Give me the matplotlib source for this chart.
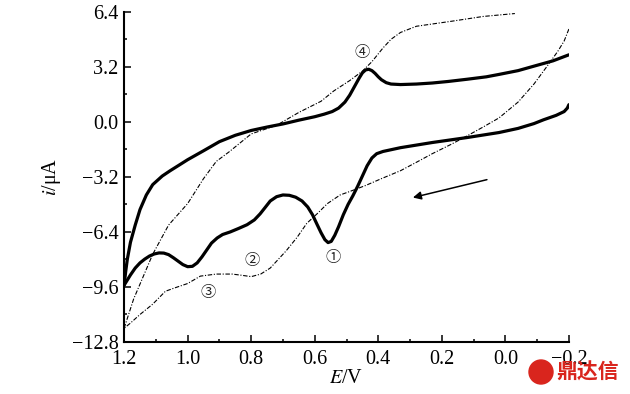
import matplotlib.pyplot as plt
from matplotlib.ticker import MultipleLocator
from matplotlib.patches import Circle

plt.rcParams['font.family'] = ['Liberation Serif', 'DejaVu Serif']
plt.rcParams['mathtext.fontset'] = 'stix'

# curva gruesa: barrido anodico -> catodico (rama superior)
e_up = [1.20, 1.195, 1.19, 1.18, 1.165, 1.15, 1.13, 1.11, 1.08, 1.055, 1.03, 1.00, 0.95, 0.90,
        0.85, 0.80, 0.75, 0.70, 0.65, 0.60, 0.57, 0.545, 0.525, 0.505, 0.49, 0.475, 0.46, 0.45,
        0.44, 0.43, 0.42, 0.41, 0.40, 0.39, 0.375, 0.36, 0.33, 0.28, 0.23, 0.18, 0.12, 0.06,
        0.02, -0.04, -0.09, -0.15, -0.20]
i_up = [-9.5, -8.7, -8.0, -7.0, -6.0, -5.1, -4.25, -3.65, -3.15, -2.84, -2.55, -2.2, -1.68, -1.15,
        -0.78, -0.5, -0.3, -0.12, 0.1, 0.3, 0.45, 0.6, 0.8, 1.15, 1.55, 2.05, 2.55, 2.85,
        3.02, 3.06, 2.98, 2.82, 2.62, 2.45, 2.28, 2.2, 2.17, 2.2, 2.26, 2.35, 2.48, 2.62,
        2.76, 2.98, 3.24, 3.55, 3.9]

# rama inferior (barrido de vuelta)
e_dn = [-0.20, -0.195, -0.185, -0.16, -0.12, -0.09, -0.04, 0.02, 0.12, 0.23, 0.33, 0.36, 0.385,
        0.405, 0.42, 0.435, 0.45, 0.465, 0.48, 0.495, 0.51, 0.525, 0.537, 0.548, 0.558, 0.568,
        0.58, 0.593, 0.607, 0.622, 0.64, 0.66, 0.68, 0.70, 0.72, 0.74, 0.757, 0.772, 0.79,
        0.813, 0.84, 0.866, 0.89, 0.907, 0.925, 0.94, 0.955, 0.97, 0.985, 1.00, 1.015, 1.03,
        1.045, 1.06, 1.075, 1.09, 1.105, 1.12, 1.135, 1.15, 1.165, 1.18, 1.19, 1.20]
i_dn = [1.0, 0.8, 0.6, 0.38, 0.12, -0.1, -0.38, -0.62, -0.91, -1.2, -1.5, -1.62, -1.72,
        -1.85, -2.1, -2.55, -3.15, -3.75, -4.3, -4.8, -5.4, -6.1, -6.6, -6.95, -7.02, -6.85,
        -6.45, -5.95, -5.4, -4.95, -4.6, -4.38, -4.27, -4.25, -4.35, -4.6, -5.0, -5.35, -5.7,
        -5.98, -6.2, -6.4, -6.55, -6.75, -7.05, -7.45, -7.85, -8.2, -8.4, -8.42, -8.3, -8.1,
        -7.9, -7.72, -7.63, -7.62, -7.68, -7.8, -7.98, -8.2, -8.5, -8.9, -9.2, -9.5]

# curva punto-raya: rama inferior y rama superior
e_dd_dn = [-0.20, -0.185, -0.165, -0.13, -0.09, -0.04, 0.02, 0.07, 0.12, 0.17, 0.23, 0.28, 0.33,
           0.39, 0.44, 0.49, 0.52, 0.56, 0.59, 0.625, 0.655, 0.69, 0.72, 0.74, 0.77, 0.80, 0.83,
           0.86, 0.91, 0.96, 1.00, 1.04, 1.07, 1.11, 1.15, 1.18, 1.20]
i_dd_dn = [5.4, 4.7, 4.1, 3.2, 2.2, 1.15, 0.23, -0.3, -0.81, -1.3, -1.85, -2.35, -2.84,
           -3.3, -3.7, -4.05, -4.25, -4.75, -5.3, -5.9, -6.7, -7.5, -8.1, -8.5, -8.85, -9.0, -8.92,
           -8.85, -8.85, -8.97, -9.4, -9.65, -9.85, -10.6, -11.2, -11.7, -12.0]
e_dd_up = [1.20, 1.17, 1.14, 1.11, 1.06, 1.00, 0.95, 0.91, 0.87, 0.80, 0.72, 0.65, 0.58, 0.54,
           0.49, 0.45, 0.42, 0.385, 0.36, 0.33, 0.28, 0.17, 0.07, -0.03]
i_dd_up = [-12.0, -10.3, -9.0, -7.7, -6.0, -4.75, -3.3, -2.3, -1.75, -0.7, -0.2, 0.55, 1.2, 1.8,
           2.4, 2.95, 3.5, 4.3, 4.8, 5.2, 5.56, 5.85, 6.13, 6.3]

labels = ['①', '②', '③', '④']
lab_e = [0.543, 0.797, 0.936, 0.451]
lab_i = [-7.9, -8.05, -9.9, 4.05]

fig = plt.figure(figsize=(6.3, 3.94), dpi=100)
ax = fig.add_axes([0.197, 0.132, 0.706, 0.838])

ax.plot(e_up, i_up, color='black', linewidth=2.3, solid_joinstyle='round', solid_capstyle='round')
ax.plot(e_dn, i_dn, color='black', linewidth=2.3, solid_joinstyle='round', solid_capstyle='round')
ax.plot(e_dd_dn, i_dd_dn, color='black', linewidth=0.8, linestyle=(0, (4, 1.5, 1, 1.5)))
ax.plot(e_dd_up, i_dd_up, color='black', linewidth=0.8, linestyle=(0, (4, 1.5, 1, 1.5)))

for t, x, y in zip(labels, lab_e, lab_i):
    ax.text(x, y, t, ha='center', va='center', fontsize=11,
            family=['Noto Sans CJK SC', 'DejaVu Sans'], color='#222222')

ax.annotate('', xy=(0.291, -4.4), xytext=(0.058, -3.36),
            arrowprops=dict(arrowstyle='-|>', color='black', lw=1.1,
                            mutation_scale=12, shrinkA=0, shrinkB=0))

ax.set_xlim(1.2, -0.2)
ax.set_ylim(-12.8, 6.4)
ax.xaxis.set_minor_locator(MultipleLocator(0.1))
ax.yaxis.set_minor_locator(MultipleLocator(1.6))
ax.set_xticks([1.2, 1.0, 0.8, 0.6, 0.4, 0.2, 0.0, -0.2])
ax.set_xticklabels(['1.2', '1.0', '0.8', '0.6', '0.4', '0.2', '0.0', '\u22120.2'])
ax.set_yticks([6.4, 3.2, 0.0, -3.2, -6.4, -9.6, -12.8])
ax.set_yticklabels(['6.4', '3.2', '0.0', '\u22123.2', '\u22126.4', '\u22129.6', '\u221212.8'])

ax.spines['top'].set_visible(False)
ax.spines['right'].set_visible(False)
ax.spines['left'].set_linewidth(1.5)
ax.spines['bottom'].set_linewidth(1.5)
ax.tick_params(which='major', direction='in', length=5, width=1.1, labelsize=14.5)
ax.tick_params(which='minor', direction='in', length=2.5, width=1.1)
ax.tick_params(axis='x', which='major', pad=6)
ax.tick_params(axis='y', which='major', pad=4)

ax.set_xlabel('$E$/V', fontsize=14.5, labelpad=0)
ax.set_ylabel('$i$/μA', fontsize=14.5, labelpad=6)

# marca de agua
fig.patches.append(Circle((541, 394 - 372), 12, transform=None, color='#d9251d'))
fig.text(556 / 630, 1 - 372 / 394, '鼎达信', ha='left', va='center', fontsize=15,
         fontweight='bold', color='#d9251d', family=['Noto Sans CJK SC', 'DejaVu Sans'])

fig.savefig('out.png', dpi=100)
